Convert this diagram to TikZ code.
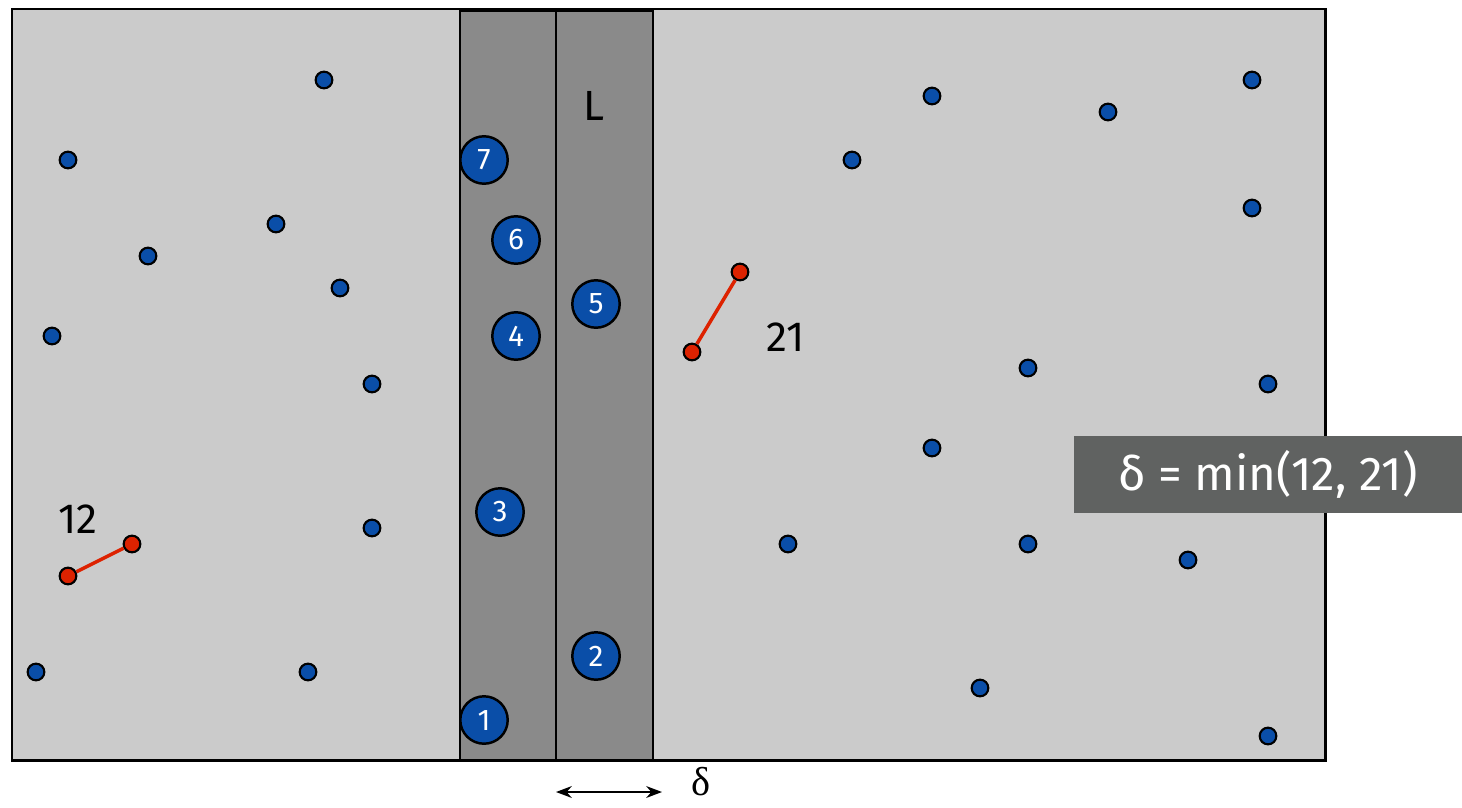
\documentclass[tikz,border=0pt]{standalone}
\usepackage{fontspec}
\setmainfont{Fira Sans}
\newfontfamily\serifdelta{Liberation Serif}
\usetikzlibrary{arrows.meta}

\definecolor{bgray}{HTML}{CBCBCB}
\definecolor{sgray}{HTML}{8A8A8A}
\definecolor{lgray}{HTML}{606261}
\definecolor{pblue}{HTML}{0A4EA8}
\definecolor{pred}{HTML}{DD2200}

\begin{document}
\begin{tikzpicture}[x=0.02cm, y=-0.02cm,
	dot/.style={circle, draw=black, line width=1.2pt, fill=pblue, inner sep=0pt, minimum size=9.5pt},
	rdot/.style={dot, fill=pred},
	num/.style={circle, draw=black, line width=1.4pt, fill=pblue, inner sep=0pt, minimum size=27pt, text=white, font=\fontsize{17}{17}\selectfont},
	lbl/.style={font=\fontsize{24}{24}\selectfont}]
\useasboundingbox (0,0) rectangle (1462,807);
% plane and strip
\draw[line width=1.7pt, fill=bgray] (12,9) rectangle (1325,760);
\draw[line width=1pt, fill=sgray] (460,11) rectangle (653,760);
\draw[line width=1pt] (556,11) -- (556,760);
\node[lbl] (L) at (594,106) {L};
% points
\foreach \x/\y [count=\i] in {324/80, 68/160, 276/224, 148/256, 340/288, 52/336, 372/384, 372/528, 36/672, 308/672,
	932/96, 1108/112, 1252/80, 852/160, 1252/208, 1028/368, 1268/384, 932/448, 788/544, 1028/544, 1188/560, 980/688, 1268/736}
	\node[dot] (d\i) at (\x,\y) {};
% closest pairs
\node[rdot] (a1) at (68,576) {};
\node[rdot] (a2) at (132,544) {};
\node[rdot] (b1) at (692,352) {};
\node[rdot] (b2) at (740,272) {};
\draw[pred, line width=2pt] (a1) -- (a2);
\draw[pred, line width=2pt] (b1) -- (b2);
\node[lbl] (l12) at (78,519) {12};
\node[lbl] (l21) at (786,337) {21};
% strip points
\foreach \x/\y/\n in {484/720/1, 596/656/2, 500/512/3, 516/336/4, 596/304/5, 516/240/6, 484/160/7}
	\node[num] (p\n) at (\x,\y) {\n};
% width of strip
\coordinate (s1) at (556,792);
\coordinate (s2) at (662,792);
\draw[{Stealth[length=9pt]}-{Stealth[length=9pt]}, line width=1pt] (s1) -- (s2);
\node[inner sep=0pt, font=\serifdelta\fontsize{23}{23}\selectfont] (dl) at (701,782) {δ};
\node[fill=lgray, text=white, font=\fontsize{27}{27}\selectfont, minimum width=388*0.02cm, minimum height=77*0.02cm] (res) at (1268,474.5) {δ = min(12, 21)};
\end{tikzpicture}
\end{document}
